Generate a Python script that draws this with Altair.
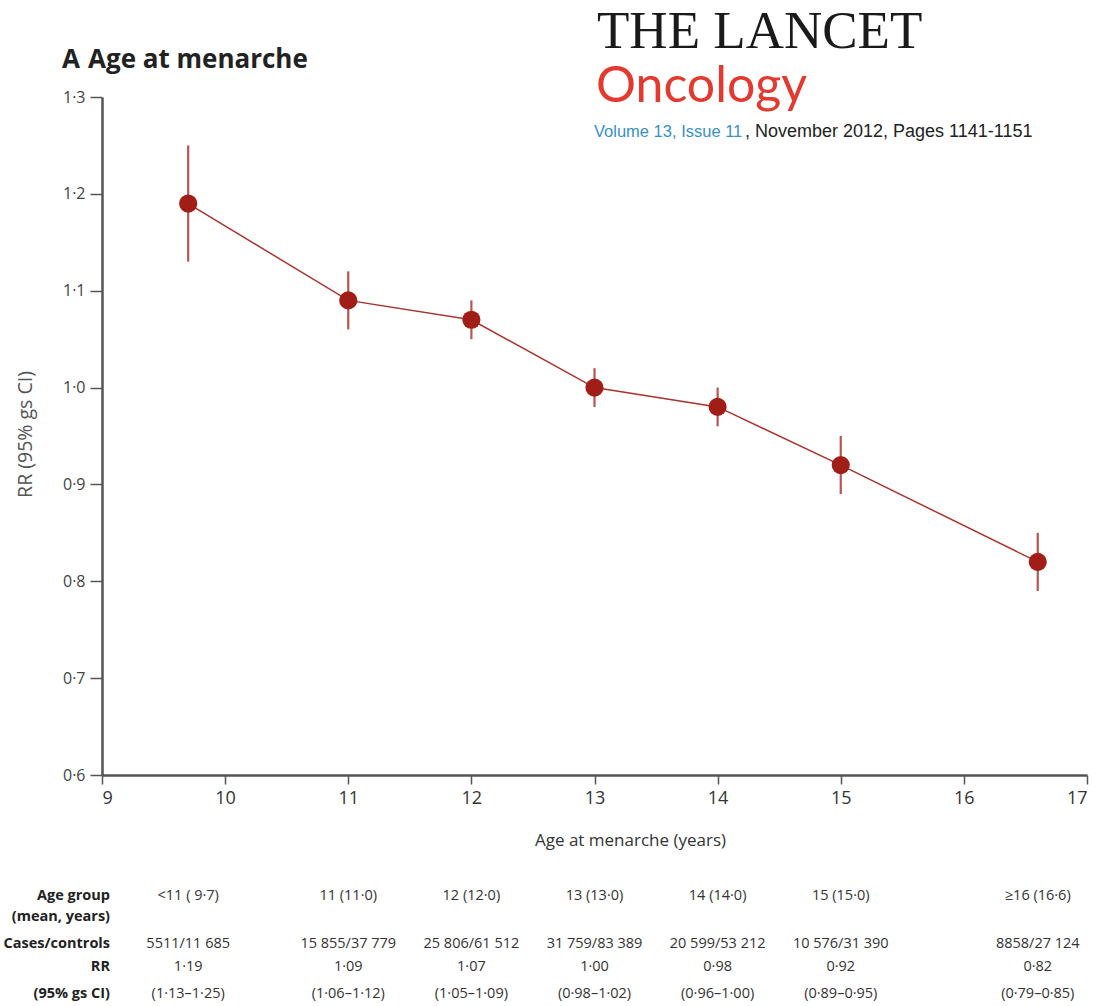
import altair as alt
import pandas as pd

# Relative risk of breast cancer by age at menarche
age_groups = ["<11 ( 9·7)", "11 (11·0)", "12 (12·0)", "13 (13·0)", "14 (14·0)", "15 (15·0)", "≥16 (16·6)"]
mean_age = [9.7, 11.0, 12.0, 13.0, 14.0, 15.0, 16.6]
cases_controls = ["5511/11 685", "15 855/37 779", "25 806/61 512", "31 759/83 389",
                  "20 599/53 212", "10 576/31 390", "8858/27 124"]
rr = [1.19, 1.09, 1.07, 1.00, 0.98, 0.92, 0.82]
ci_low = [1.13, 1.06, 1.05, 0.98, 0.96, 0.89, 0.79]
ci_high = [1.25, 1.12, 1.09, 1.02, 1.00, 0.95, 0.85]

row_labels = ["Age group", "(mean, years)", "Cases/controls", "RR", "(95% gs CI)"]

df = pd.DataFrame({
    "group": age_groups, "age": mean_age, "cc": cases_controls,
    "rr": rr, "lo": ci_low, "hi": ci_high,
})

W, H = 985, 678
SANS = "Open Sans"
DOT = "replace(format({v}, '{f}'), '.', '·')"

x_scale = alt.Scale(domain=[9, 17], nice=False, zero=False)
y_scale = alt.Scale(domain=[0.6, 1.3], nice=False, zero=False)

base = alt.Chart(df)

x_enc = alt.X("age:Q", scale=x_scale, axis=alt.Axis(
    title="Age at menarche (years)", values=list(range(9, 18)), format="d",
    grid=False, domainColor="#555555", domainWidth=2.5, tickColor="#555555",
    tickWidth=1.5, tickSize=9, labelFont=SANS, labelFontSize=18, labelColor="#333333",
    labelPadding=5, titleFont=SANS, titleFontSize=17, titleFontWeight="normal",
    titleColor="#333333", titleX=528, titleY=65, titleBaseline="middle",
    titleAnchor="middle", titleAlign="center",
))

errbars = base.mark_rule(color="#b8554f", strokeWidth=2.2).encode(
    x=x_enc,
    y=alt.Y("lo:Q", scale=y_scale, axis=alt.Axis(
        title="RR (95% gs CI)", values=[0.6, 0.7, 0.8, 0.9, 1.0, 1.1, 1.2, 1.3],
        labelExpr=DOT.format(v="datum.value", f=".1f"), grid=False,
        domainColor="#555555", domainWidth=2.5, tickColor="#555555", tickWidth=1.5,
        tickSize=12, labelFont=SANS, labelFontSize=16, labelColor="#444444",
        labelPadding=5, titleFont=SANS, titleFontSize=19.5,
        titleFontWeight="normal", titleColor="#555555", titleX=-77, titleY=337,
        titleAngle=-90, titleBaseline="middle", titleAlign="center",
    )),
    y2="hi:Q",
)

line = base.mark_line(color="#a6352e", strokeWidth=1.5).encode(
    x=alt.X("age:Q", scale=x_scale), y=alt.Y("rr:Q", scale=y_scale)
)

points = base.mark_point(filled=True, size=330, color="#a11d17", opacity=1).encode(
    x=alt.X("age:Q", scale=x_scale), y=alt.Y("rr:Q", scale=y_scale)
)

# Table under the axis: one text row per field, columns placed on the age scale
tbl_font = dict(font=SANS, fontSize=14.5, color="#333333", align="center", baseline="middle")
row_y = [799, 820, 847, 870, 897]

t_group = base.mark_text(**tbl_font).encode(
    x=alt.X("age:Q", scale=x_scale), y=alt.value(row_y[0]), text="group:N")
t_cc = base.mark_text(**tbl_font).encode(
    x=alt.X("age:Q", scale=x_scale), y=alt.value(row_y[2]), text="cc:N")
t_rr = base.transform_calculate(
    rr_txt=DOT.format(v="datum.rr", f=".2f")
).mark_text(**tbl_font).encode(
    x=alt.X("age:Q", scale=x_scale), y=alt.value(row_y[3]), text="rr_txt:N")
t_ci = base.transform_calculate(
    ci_txt="'(' + " + DOT.format(v="datum.lo", f=".2f") + " + '–' + "
           + DOT.format(v="datum.hi", f=".2f") + " + ')'"
).mark_text(**tbl_font).encode(
    x=alt.X("age:Q", scale=x_scale), y=alt.value(row_y[4]), text="ci_txt:N")

rows_df = pd.DataFrame({"label": row_labels, "ry": row_y})
t_rows = alt.Chart(rows_df).mark_text(
    font=SANS, fontSize=14.5, fontWeight="bold", color="#222222",
    align="right", baseline="middle"
).encode(x=alt.value(8), y=alt.Y("ry:Q", scale=None), text="label:N")

# Panel heading and journal masthead
panel = alt.Chart(pd.DataFrame({"t": ["A"]})).mark_text(
    font=SANS, fontSize=26, fontWeight="bold", color="#222222",
    align="left", baseline="alphabetic"
).encode(x=alt.value(-40), y=alt.value(-29), text="t:N")

heading = alt.Chart(pd.DataFrame({"t": ["Age at menarche"]})).mark_text(
    font=SANS, fontSize=26, fontWeight="bold", color="#222222",
    align="left", baseline="alphabetic"
).encode(x=alt.value(-14), y=alt.value(-29), text="t:N")

journal = alt.Chart(pd.DataFrame({"t": ["THE LANCET"]})).mark_text(
    font="Liberation Serif", fontSize=53, color="#1a1a1a", align="left", baseline="alphabetic"
).encode(x=alt.value(495), y=alt.value(-49), text="t:N")

oncology = alt.Chart(pd.DataFrame({"t": ["Oncology"]})).mark_text(
    font="Lato", fontSize=50, color="#e3392e", align="left", baseline="alphabetic"
).encode(x=alt.value(494), y=alt.value(5), text="t:N")

vol = alt.Chart(pd.DataFrame({"t": ["Volume 13, Issue 11"]})).mark_text(
    font="Liberation Sans", fontSize=16.5, color="#3a8fc6", align="left", baseline="alphabetic"
).encode(x=alt.value(492), y=alt.value(40), text="t:N")

issue = alt.Chart(pd.DataFrame({"t": [", November 2012, Pages 1141-1151"]})).mark_text(
    font="Liberation Sans", fontSize=18, color="#222222", align="left", baseline="alphabetic"
).encode(x=alt.value(643), y=alt.value(40), text="t:N")

chart = alt.layer(
    errbars, line, points, t_group, t_cc, t_rr, t_ci, t_rows,
    panel, heading, journal, oncology, vol, issue
).properties(
    width=W, height=H, background="white",
    autosize=alt.AutoSizeParams(type="none"),
    padding={"left": 102, "top": 97, "right": 16, "bottom": 231},
).configure_view(strokeWidth=0)

chart.save("out.html", embed_options={"renderer": "svg", "actions": False})
